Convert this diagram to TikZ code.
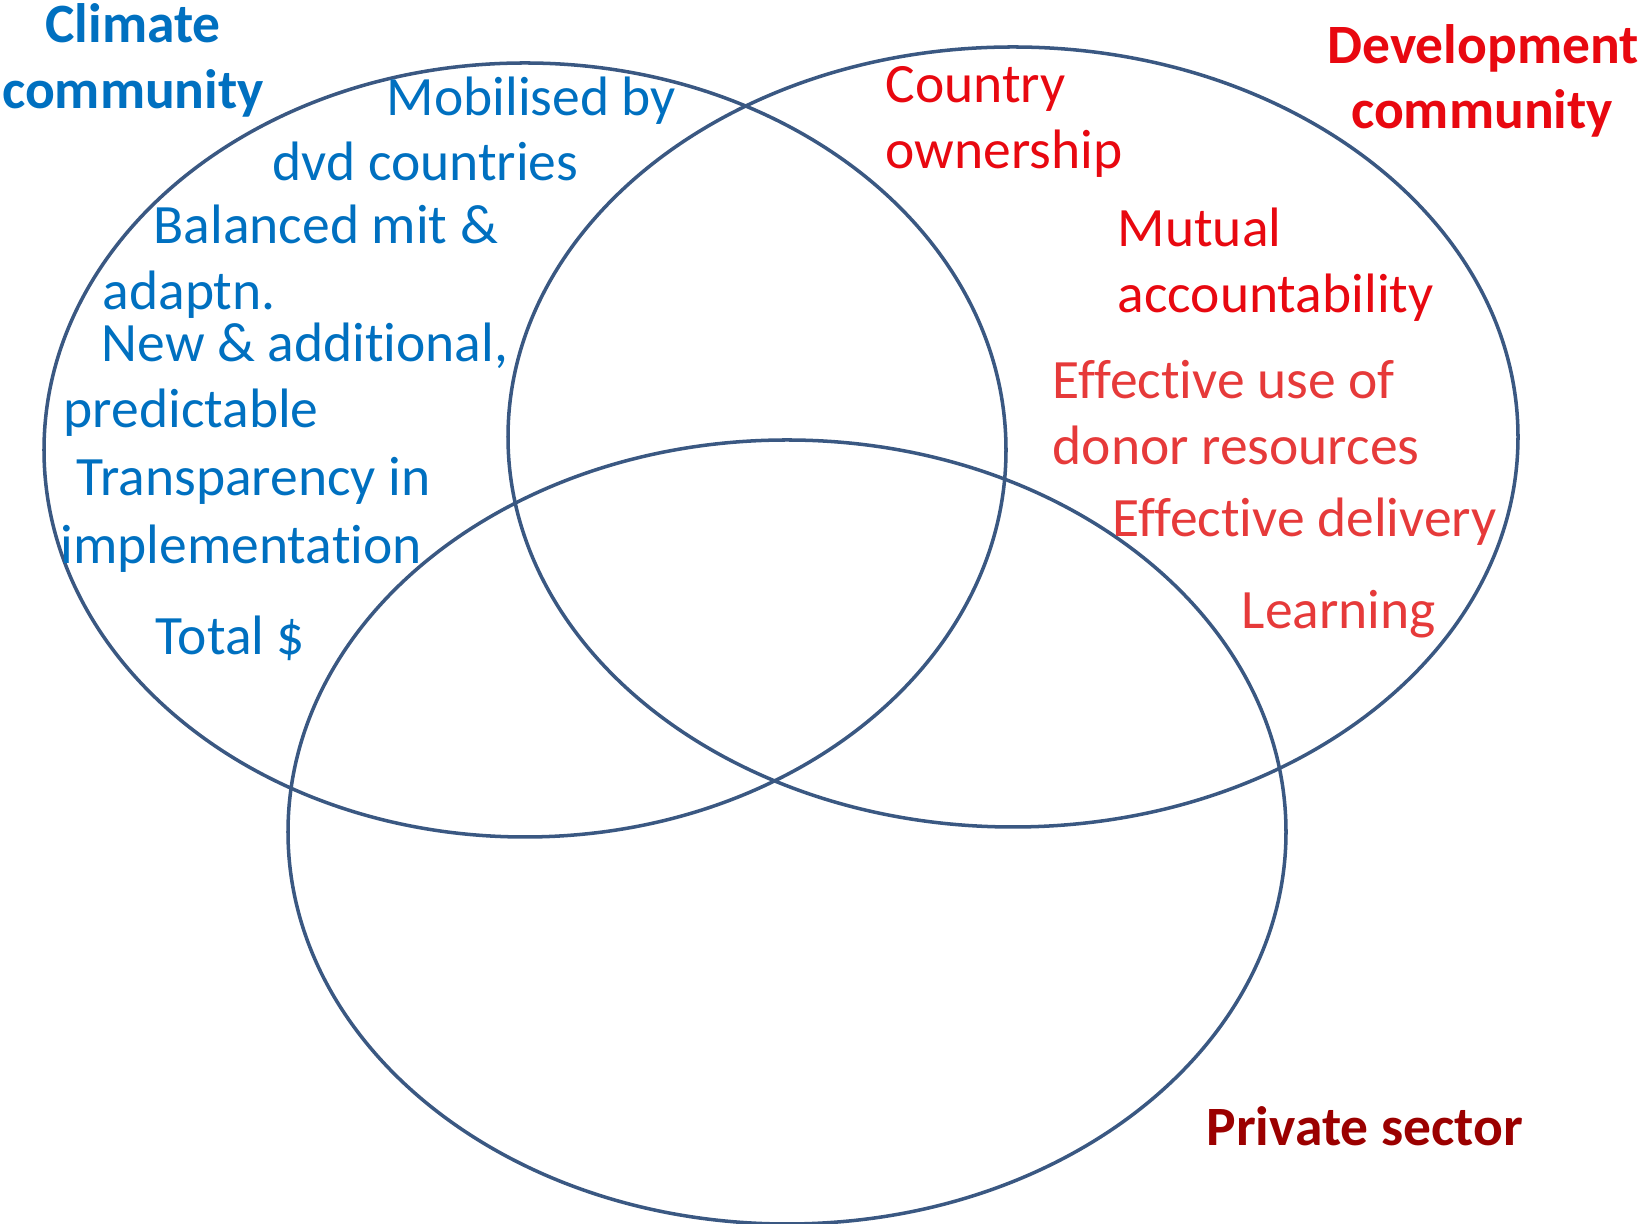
\documentclass[tikz,border=0pt]{standalone}
\usepackage{fontspec}
\setmainfont{Carlito}[Ligatures=NoCommon]
\usepackage{tikz}

\definecolor{ringline}{RGB}{58,88,130}
\definecolor{climblue}{RGB}{0,112,192}
\definecolor{devred}{RGB}{232,8,16}
\definecolor{devlight}{RGB}{230,58,58}
\definecolor{privred}{RGB}{155,0,0}

\tikzset{
  ring/.style={draw=ringline, line width=1pt},
  item/.style={anchor=base west, inner sep=0pt, font=\fontsize{15.8}{19}\selectfont},
  title/.style={anchor=base, inner sep=0pt, font=\fontsize{15.8}{19}\selectfont\bfseries},
}

\begin{document}
\begin{tikzpicture}
  \useasboundingbox (0,0) rectangle (16.42,12.24);
  \draw[ring] (5.25,7.74) ellipse [x radius=4.81, y radius=3.87];
  \draw[ring] (10.13,7.87) ellipse [x radius=5.05, y radius=3.90];
  \draw[ring] (7.87,3.92) ellipse [x radius=4.99, y radius=3.92];

  % climate side
  \node[title, climblue] (climA) at (1.33,11.81) {Climate};
  \node[title, climblue] (climB) at (1.33,11.15) {community};
  \node[item, climblue] (mob) at (3.86,11.08) {Mobilised by};
  \node[item, climblue] (dvd) at (2.72,10.43) {dvd countries};
  \node[item, climblue] (bal) at (1.53,9.80) {Balanced mit \&};
  \node[item, climblue] (adp) at (1.02,9.14) {adaptn.};
  \node[item, climblue] (new) at (1.01,8.62) {New \& additional,};
  \node[item, climblue] (pred) at (0.63,7.96) {predictable};
  \node[item, climblue] (trans) at (0.76,7.28) {Transparency in};
  \node[item, climblue] (impl) at (0.60,6.60) {implementation};
  \node[item, climblue] (tot) at (1.55,5.69) {Total \$};

  % development side
  \node[title, devred] (devA) at (14.83,11.60) {Development};
  \node[title, devred] (devB) at (14.82,10.95) {community};
  \node[item, devred] (ctry) at (8.85,11.21) {Country};
  \node[item, devred] (own) at (8.85,10.55) {ownership};
  \node[item, devred] (mut) at (11.17,9.77) {Mutual};
  \node[item, devred] (acc) at (11.17,9.11) {accountability};
  \node[item, devlight] (eff) at (10.52,8.25) {Effective use of};
  \node[item, devlight] (don) at (10.52,7.59) {donor resources};
  \node[item, devlight] (del) at (11.12,6.87) {Effective delivery};
  \node[item, devlight] (lrn) at (12.41,5.95) {Learning};

  % private sector
  \node[title, privred, anchor=base west] (priv) at (12.06,0.78) {Private sector};
\end{tikzpicture}
\end{document}
